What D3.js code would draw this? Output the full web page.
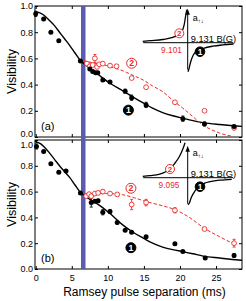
<!DOCTYPE html>
<html><head><meta charset="utf-8">
<script src="https://cdn.jsdelivr.net/npm/d3@7"></script>
<style>
html,body{margin:0;padding:0;background:#fff;}
svg{display:block;font-family:Arial,"Liberation Sans",sans-serif;}
</style></head><body>
<script>
// axis ticks
const ticksX = [0, 5, 10, 15, 20, 25];
const ticksY = [0, 0.2, 0.4, 0.6, 0.8, 1.0];
const pulseBand = [6.28, 6.9];

// [t (ms), visibility, error]
const blackA = [[0.0,0.94,0.02],[1.1,0.90,0],[2.1,0.80,0],[3.2,0.735,0],[6.2,0.58,0.01],[7.5,0.52,0],
  [7.9,0.50,0.01],[8.3,0.49,0.01],[8.6,0.49,0.01],[9.3,0.435,0.01],[10.3,0.42,0],[12.4,0.35,0.015],
  [13.3,0.30,0.02],[15.3,0.245,0.02],[20.4,0.14,0.02],[23.4,0.10,0.015],[27.5,0.08,0.01]];
const redA = [[7.1,0.56,0],[7.5,0.54,0],[7.9,0.55,0],[8.2,0.60,0.03],[8.5,0.535,0],[8.8,0.555,0],
  [9.3,0.56,0],[10.3,0.545,0],[11.2,0.54,0],[13.3,0.45,0],[15.3,0.38,0],[19.3,0.265,0],
  [23.4,0.20,0],[27.5,0.07,0.015]];
const fitBlackA = [[-0.1,0.955],[0.5,0.95],[1,0.935],[1.9,0.89],[2.6,0.85],[3.3,0.80],[4,0.75],
  [4.7,0.70],[5.4,0.645],[6.1,0.59],[7.4,0.53],[8.7,0.475],[10.3,0.41],[12,0.355],[13.5,0.305],
  [14.9,0.26],[16.2,0.22],[17.6,0.186],[19,0.162],[20.4,0.143],[21.8,0.125],[23.2,0.11],
  [25.5,0.095],[27.8,0.084],[28.6,0.081]];
const fitRedA = [[6.6,0.585],[8,0.565],[9.5,0.55],[11,0.525],[12.1,0.505],[13.5,0.47],[14.9,0.435],
  [16.2,0.39],[17.6,0.346],[19,0.28],[20.4,0.22],[21.8,0.155],[23.2,0.09],[24.4,0.055],
  [25.5,0.03],[27.3,0.005]];

const blackB = [[0.1,0.95,0.02],[1.1,0.91,0],[2.1,0.815,0],[3.2,0.75,0.01],[4.2,0.76,0],[6.2,0.59,0],
  [7.7,0.515,0.035],[8.2,0.525,0.01],[8.65,0.53,0.01],[9.3,0.44,0.02],[10.3,0.445,0.015],
  [11.3,0.36,0.01],[12.4,0.30,0],[13.3,0.285,0],[15.3,0.25,0],[19.3,0.195,0.01],[20.4,0.135,0],
  [23.5,0.085,0],[27.5,0.105,0.015]];
const redB = [[7.0,0.565,0],[7.4,0.58,0],[7.7,0.565,0],[8.2,0.585,0],[8.65,0.59,0],[9.3,0.60,0.015],
  [10.3,0.585,0],[11.3,0.578,0],[13.3,0.50,0.04],[15.3,0.515,0.025],[19.3,0.455,0.02],
  [23.4,0.31,0.01],[27.5,0.20,0.03]];
const fitBlackB = [[-0.1,0.99],[0.7,0.97],[1.9,0.90],[2.6,0.85],[3.3,0.80],[4,0.755],[4.7,0.71],
  [5.4,0.655],[6.1,0.60],[7.2,0.55],[8.4,0.51],[10.3,0.43],[12.1,0.34],[13.5,0.285],[14.9,0.24],
  [16.2,0.20],[17.6,0.17],[19,0.15],[20.4,0.135],[21.8,0.118],[23.2,0.10],[25.5,0.085],
  [28.1,0.07],[28.6,0.068]];
const fitRedB = [[6.6,0.585],[8,0.585],[10,0.585],[12.1,0.575],[13.5,0.555],[14.9,0.53],[16.2,0.51],
  [17.6,0.49],[19.3,0.46],[21.3,0.40],[23.4,0.315],[25.5,0.25],[27.6,0.19]];

// inset sketch of a(B), arbitrary units around the resonance
const insetLeftA = [[-45,1.3],[-37.5,2],[-25,3.2],[-16,5],[-10,7.5],[-7.5,9.4],[-5,13],[-3.5,18],
  [-2.5,24],[-1.5,30],[-0.8,33]];
const insetRightA = [[0.3,-29],[1,-27],[3,-19],[5.6,-12.3],[8,-9],[12,-7],[15.8,-5.6],[25,-3.5],
  [35,-2.2],[45.8,-1.3]];
const insetLeftB = [[-45,1.3],[-37.7,2],[-28,3.5],[-22,6],[-17.7,8.7],[-12.7,14.7],[-9,20],[-6,26],
  [-4,31],[-2.7,35]];
const insetRightB = [[0.3,-27],[1.5,-25.6],[3.5,-20],[5.8,-15.6],[9,-11],[12.5,-8],[17,-5.5],
  [22.5,-4],[32,-2.5],[44,-1.6]];

const red = '#ea2b2b', band = '#5b5bb2';
const W = 246, H = 301;

const svg = d3.select('body').append('svg').attr('width', W).attr('height', H);
const x = d3.scaleLinear().domain([-0.1, 28.6]).range([35, 242]);

const panels = [
  { label: '(a)', top: 6, bottom: 137, black: blackA, red: redA, fitB: fitBlackA, fitR: fitRedA,
    one: [12.85, 0.205], two: [13.3, 0.563], axisY: 42.7, left: insetLeftA, right: insetRightA,
    res: '9.101', resX: 171.5, two2: [-8.4, 9.4], arrowTop: 33, arrowBot: -27, xLabels: false },
  { label: '(b)', top: 140, bottom: 269, black: blackB, red: redB, fitB: fitBlackB, fitR: fitRedB,
    one: [13.2, 0.165], two: [13.2, 0.626], axisY: 177.7, left: insetLeftB, right: insetRightB,
    res: '9.095', resX: 169, two2: [-17.7, 8.7], arrowTop: 31, arrowBot: -26, xLabels: true }
];

function circled(g, cx, cy, r, txt, filled) {
  g.append('circle').attr('cx', cx).attr('cy', cy).attr('r', r)
    .attr('fill', filled ? '#000' : '#fff').attr('stroke', filled ? '#000' : red).attr('stroke-width', 1);
  g.append('text').attr('x', cx).attr('y', cy + r * 0.62).attr('text-anchor', 'middle')
    .attr('font-size', r * 1.75).attr('font-weight', 'bold')
    .attr('fill', filled ? '#fff' : red).text(txt);
}

// vertical shift (px) of the tick labels, pulling the end labels apart where the panels meet
function labelDy(p, d) {
  if (d === 0 && p.label === '(a)') return -1;
  if (d === 1 && p.label === '(b)') return 7.2;
  return 2.9;
}

panels.forEach(p => {
  const y = d3.scaleLinear().domain([0, 1]).range([p.bottom, p.top]);
  const g = svg.append('g');

  // axes with inward ticks
  const left = g.append('g').attr('transform', `translate(${x.range()[0]},0)`)
    .call(d3.axisLeft(y).tickValues(ticksY).tickSizeInner(-3).tickSizeOuter(0).tickPadding(2)
      .tickFormat(d3.format('.1f')));
  left.selectAll('text').attr('font-size', 9).attr('font-family', 'Arial,Liberation Sans')
    .attr('dy', d => labelDy(p, d));
  g.append('g').attr('transform', `translate(${x.range()[1]},0)`)
    .call(d3.axisRight(y).tickValues(ticksY).tickSizeInner(-3).tickSizeOuter(0).tickFormat(''));
  g.append('g').attr('transform', `translate(0,${p.top})`)
    .call(d3.axisTop(x).tickValues(ticksX).tickSizeInner(-3).tickSizeOuter(0).tickFormat(''));
  const bot = g.append('g').attr('transform', `translate(0,${p.bottom})`)
    .call(d3.axisBottom(x).tickValues(ticksX).tickSizeInner(-3).tickSizeOuter(0).tickPadding(4)
      .tickFormat(p.xLabels ? d3.format('d') : ''));
  bot.selectAll('text').attr('font-size', 9).attr('font-family', 'Arial,Liberation Sans').attr('dy', '0.9em');
  g.selectAll('.domain').remove();
  g.selectAll('.tick line').attr('stroke', '#000');
  g.append('rect').attr('x', x.range()[0]).attr('y', p.top)
    .attr('width', x.range()[1] - x.range()[0]).attr('height', p.bottom - p.top)
    .attr('fill', 'none').attr('stroke', '#000').attr('stroke-width', 1);

  // y label
  g.append('text').attr('transform', `translate(15.5,${(p.top + p.bottom) / 2}) rotate(-90)`)
    .attr('text-anchor', 'middle').attr('font-size', 12.5).text('Visibility');

  g.append('text').attr('x', 41).attr('y', p.bottom - 7).attr('font-size', 11).text(p.label);

  // inset
  const ax = 187.7;
  const ix = d3.scaleLinear().domain([-50, 50]).range([ax - 50, ax + 50]);
  const iy = d3.scaleLinear().domain([-40, 40]).range([p.axisY + 40, p.axisY - 40]);
  const il = d3.line().x(d => ix(d[0])).y(d => iy(d[1])).curve(d3.curveMonotoneX);
  g.append('line').attr('x1', ix(-44.5)).attr('x2', ix(45.5)).attr('y1', iy(0)).attr('y2', iy(0))
    .attr('stroke', '#000').attr('stroke-width', 1);
  g.append('line').attr('x1', ix(0)).attr('x2', ix(0)).attr('y1', iy(p.arrowBot)).attr('y2', iy(p.arrowTop) + 3)
    .attr('stroke', '#000').attr('stroke-width', 1);
  g.append('path').attr('d', `M${ix(0)},${iy(p.arrowTop) - 1}l-2.2,6h4.4z`).attr('fill', '#000');
  [p.left, p.right].forEach(seg => g.append('path').attr('d', il(seg)).attr('fill', 'none')
    .attr('stroke', '#000').attr('stroke-width', 1.3));
  const lab = g.append('text').attr('x', ix(5)).attr('y', iy(22)).attr('font-size', 9).text('a');
  lab.append('tspan').attr('font-size', 6).attr('dy', 2.5).text('↑↓');
  g.append('text').attr('x', ix(3)).attr('y', iy(1.2)).attr('font-size', 9.3).text('9.131 B(G)');
  g.append('text').attr('x', p.resX).attr('y', iy(-10)).attr('text-anchor', 'middle')
    .attr('font-size', 8.3).attr('fill', red).text(p.res);
  circled(g, ix(p.two2[0]), iy(p.two2[1]), 4.5, '2', false);
  circled(g, ix(12.3), iy(-9), 4.8, '1', true);
});

// pulse marker band across both panels
svg.append('rect').attr('x', x(pulseBand[0])).attr('y', panels[0].top)
  .attr('width', x(pulseBand[1]) - x(pulseBand[0])).attr('height', panels[1].bottom - panels[0].top)
  .attr('fill', band);

panels.forEach(p => {
  const y = d3.scaleLinear().domain([0, 1]).range([p.bottom, p.top]);
  const g = svg.append('g');
  const line = d3.line().x(d => x(d[0])).y(d => y(d[1])).curve(d3.curveMonotoneX);

  g.append('path').attr('d', line(p.fitB)).attr('fill', 'none').attr('stroke', '#000').attr('stroke-width', 1.4);
  g.append('path').attr('d', line(p.fitR)).attr('fill', 'none').attr('stroke', red)
    .attr('stroke-width', 1).attr('stroke-dasharray', '3.5,2');

  [[p.black, '#000'], [p.red, red]].forEach(([data, col]) => {
    const eb = g.selectAll(null).data(data.filter(d => d[2] > 0)).enter().append('g')
      .attr('stroke', col).attr('stroke-width', 0.9);
    eb.append('line').attr('x1', d => x(d[0])).attr('x2', d => x(d[0]))
      .attr('y1', d => y(d[1] - d[2])).attr('y2', d => y(d[1] + d[2]));
    eb.append('line').attr('x1', d => x(d[0]) - 1.5).attr('x2', d => x(d[0]) + 1.5)
      .attr('y1', d => y(d[1] - d[2])).attr('y2', d => y(d[1] - d[2]));
    eb.append('line').attr('x1', d => x(d[0]) - 1.5).attr('x2', d => x(d[0]) + 1.5)
      .attr('y1', d => y(d[1] + d[2])).attr('y2', d => y(d[1] + d[2]));
  });

  g.selectAll(null).data(p.red).enter().append('circle')
    .attr('cx', d => x(d[0])).attr('cy', d => y(d[1])).attr('r', 2.4)
    .attr('fill', '#fff').attr('stroke', red).attr('stroke-width', 0.9);
  g.selectAll(null).data(p.black).enter().append('circle')
    .attr('cx', d => x(d[0])).attr('cy', d => y(d[1])).attr('r', 2.5).attr('fill', '#000');

  circled(g, x(p.one[0]), y(p.one[1]), 5, '1', true);
  circled(g, x(p.two[0]), y(p.two[1]), 5, '2', false);
});

svg.append('text').attr('x', 144.5).attr('y', 296).attr('text-anchor', 'middle')
  .attr('font-size', 12).text('Ramsey pulse separation (ms)');
</script>
</body></html>
